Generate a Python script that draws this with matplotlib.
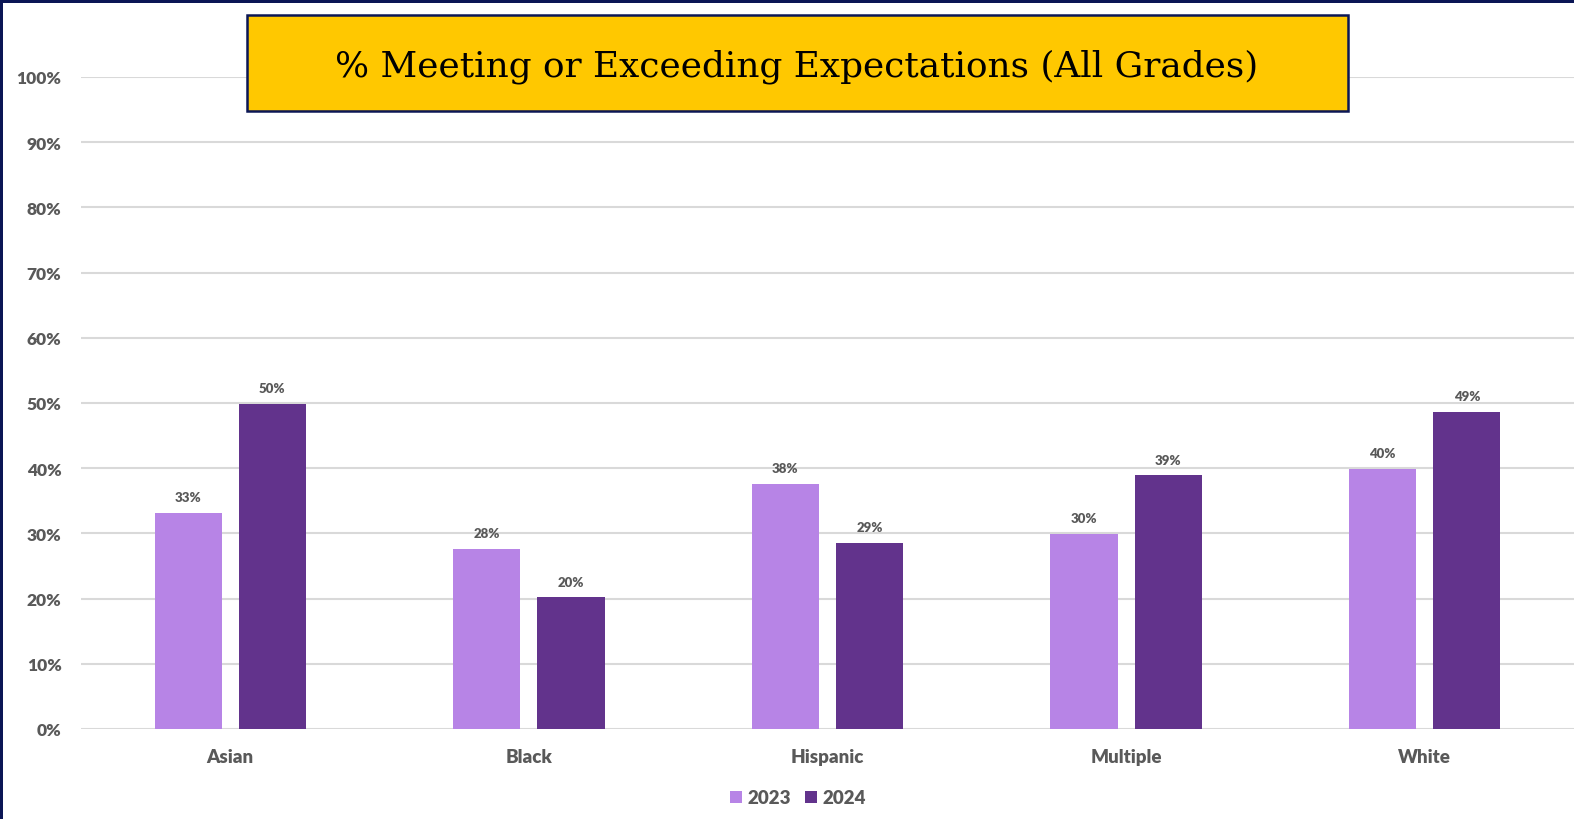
import matplotlib
matplotlib.use("Agg")
import matplotlib.pyplot as plt
from matplotlib.patches import Rectangle
import numpy as np

categories = ["Asian", "Black", "Hispanic", "Multiple", "White"]
years = ["2023", "2024"]
values_2023 = [33.2, 27.6, 37.6, 29.9, 39.9]
values_2024 = [49.9, 20.2, 28.6, 38.9, 48.6]
yticks = [0, 10, 20, 30, 40, 50, 60, 70, 80, 90, 100]
title = "% Meeting or Exceeding Expectations (All Grades)"

c2023 = "#B784E6"
c2024 = "#62338C"
gray = "#595959"
navy = "#0B1655"

fig = plt.figure(figsize=(15.74, 8.20), dpi=100)
fig.patch.set_facecolor("white")

ax = fig.add_axes([81/1574, 1 - 730/820, 1 - 81/1574, (730 - 78)/820])
x = np.arange(len(categories))
w = 0.225
off = 0.141
b1 = ax.bar(x - off, values_2023, w, color=c2023, label=years[0], zorder=3)
b2 = ax.bar(x + off, values_2024, w, color=c2024, label=years[1], zorder=3)

for bars, vals in ((b1, values_2023), (b2, values_2024)):
    for r, v in zip(bars, vals):
        ax.annotate(f"{v:.0f}%", (r.get_x() + r.get_width()/2, v), xytext=(0, 7),
                    textcoords="offset points", ha="center", va="bottom",
                    fontsize=9.5, fontweight="heavy", color=gray, family="Lato")

ax.set_xlim(-0.5, 4.5)
ax.set_ylim(0, 100)
ax.set_yticks(yticks)
ax.set_yticklabels([f"{t}%" for t in yticks], fontsize=12.5, fontweight="heavy",
                   color=gray, family="Lato")
ax.set_xticks(x)
ax.set_xticklabels(categories, fontsize=13.5, fontweight="heavy", color=gray, family="Lato")
ax.tick_params(axis="y", length=0, pad=14)
ax.tick_params(axis="x", length=0, pad=14)
ax.grid(axis="y", color="#D9D9D9", linewidth=1.5, zorder=0)
ax.set_axisbelow(True)
for s in ax.spines.values():
    s.set_visible(False)

leg = fig.legend(handles=[b1, b2], labels=years, loc="center", bbox_to_anchor=(798/1574, 1 - 799/820),
                 ncol=2, frameon=False, handlelength=0.65, handleheight=0.65, handletextpad=0.3,
                 columnspacing=0.7, prop={"family": "Lato", "weight": "heavy", "size": 13.5})
for t in leg.get_texts():
    t.set_color(gray)

# Title box
fig.patches.append(Rectangle((247/1574, 1 - 112/820), (1348 - 247)/1574, (112 - 16)/820,
                             transform=fig.transFigure, facecolor="#FFC800", edgecolor=navy,
                             linewidth=1.8, zorder=10))
fig.text(797/1574, 1 - 67/820, title, ha="center", va="center", fontsize=25.8,
         family="DejaVu Serif", color="black", zorder=11)

# Navy frame (top and left)
fig.patches.append(Rectangle((0, 1 - 4/820), 1, 4/820, transform=fig.transFigure,
                             facecolor=navy, edgecolor="none", zorder=12))
fig.patches.append(Rectangle((0, 0), 3/1574, 1, transform=fig.transFigure,
                             facecolor=navy, edgecolor="none", zorder=12))

fig.savefig("out.png", dpi=100, facecolor="white")
